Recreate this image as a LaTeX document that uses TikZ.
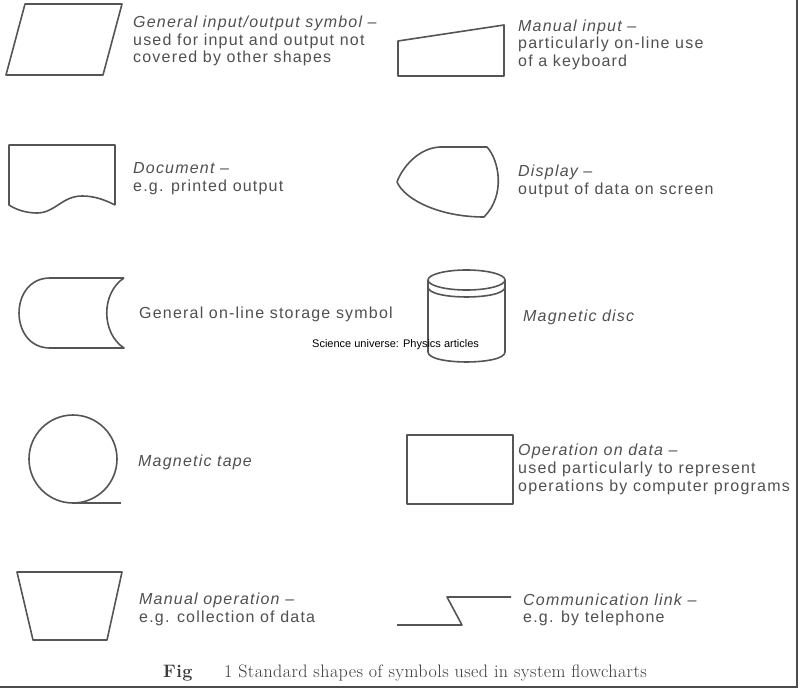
\documentclass[tikz,border=0pt]{standalone}
\usepackage{fontspec}
\newfontfamily\lblfont[LetterSpace=7.5]{Liberation Sans}
\newfontfamily\wmfont{Liberation Sans}
\newfontfamily\capfont[LetterSpace=2.5]{Latin Modern Roman}
\definecolor{txtgray}{HTML}{505050}
\definecolor{linegray}{HTML}{555555}
\definecolor{capgray}{HTML}{3A3A3A}
\tikzset{
  shp/.style={draw=linegray, line width=1.6pt, line join=round},
  lbl/.style={anchor=base west, inner sep=0pt, text=txtgray, font=\lblfont\fontsize{16}{19}\selectfont},
  itl/.style={lbl, font=\lblfont\fontsize{16}{19}\selectfont\itshape},
  captext/.style={anchor=base west, inner sep=0pt, text=capgray, font=\capfont\fontsize{18}{21}\selectfont},
}
\begin{document}
\begin{tikzpicture}[x=1pt, y=-1pt]
\useasboundingbox[fill=white] (0,0) rectangle (800,690);
% frame
\draw[gray!60!black, line width=2pt] (0,687) -- (797,687) -- (797,0);

% General input/output
\draw[shp] (25,4) -- (122,4) -- (103,75) -- (6,75) -- cycle;
\node[itl] (io1) at (133,28) {General input/output symbol –};
\node[lbl] (io2) at (133,46) {used for input and output not};
\node[lbl] (io3) at (133,63) {covered by other shapes};

% Manual input
\draw[shp] (398,41) -- (504,25) -- (504,76) -- (398,76) -- cycle;
\node[itl] (mi1) at (518,32) {Manual input –};
\node[lbl] (mi2) at (518,49) {particularly on-line use};
\node[lbl] (mi3) at (518,67) {of a keyboard};

% Document
\draw[shp] (115,205) -- (115,145) -- (9,145) -- (9,205)
  .. controls (15,209) and (25,213) .. (37,213)
  .. controls (55,213) and (62,196) .. (82,196)
  .. controls (95,196) and (105,200) .. (115,205);
\node[itl] (doc1) at (133,173) {Document –};
\node[lbl] (doc2) at (133,191) {e.g. printed output};

% Display
\draw[shp] (440,147) -- (487,147)
  .. controls (499,160) and (506,195) .. (484,217)
  .. controls (440,217) and (405,200) .. (397,182)
  .. controls (402,168) and (418,148) .. (440,147) -- cycle;
\node[itl] (dis1) at (518,176) {Display –};
\node[lbl] (dis2) at (518,194) {output of data on screen};

% On-line storage
\draw[shp] (124,278) -- (50,278)
  .. controls (8.7,278) and (8.7,348) .. (50,348)
  -- (124,348)
  .. controls (101,333) and (101,293) .. (124,278);
\node[lbl] (st1) at (139,318) {General on-line storage symbol};

% Magnetic disc
\draw[shp] (466.5,280) ellipse[x radius=38.5, y radius=10];
\draw[shp] (428,287) .. controls (428,300.3) and (505,300.3) .. (505,287);
\draw[shp] (428,280) -- (428,352) .. controls (428,365.3) and (505,365.3) .. (505,352) -- (505,280);
\node[itl] (md1) at (523,321) {Magnetic disc};

% watermark
\node[anchor=base west, inner sep=0pt, text=black, font=\wmfont\fontsize{11}{13}\selectfont] (wm) at (312,347) {Science universe: Physics articles};

% Magnetic tape
\draw[shp] (73,459) circle[radius=44];
\draw[shp] (73,503) -- (121,503);
\node[itl] (mt1) at (138,466) {Magnetic tape};

% Operation on data
\draw[shp] (407,435) rectangle (513,504);
\node[itl] (op1) at (518,455) {Operation on data –};
\node[lbl] (op2) at (518,473) {used particularly to represent};
\node[lbl] (op3) at (518,491) {operations by computer programs};

% Manual operation
\draw[shp] (17,572) -- (122,572) -- (107,640) -- (33,640) -- cycle;
\node[itl] (mo1) at (139,604) {Manual operation –};
\node[lbl] (mo2) at (139,622) {e.g. collection of data};

% Communication link
\draw[shp] (397,625) -- (462,625) -- (447,597) -- (511,597);
\node[itl] (cl1) at (523,605) {Communication link –};
\node[lbl] (cl2) at (523,622) {e.g. by telephone};

% caption
\node[captext, font=\capfont\fontsize{18}{21}\selectfont\bfseries] (fig) at (163,677) {Fig};
\node[captext] (capt) at (224,677) {1 Standard shapes of symbols used in system flowcharts};
\end{tikzpicture}
\end{document}
